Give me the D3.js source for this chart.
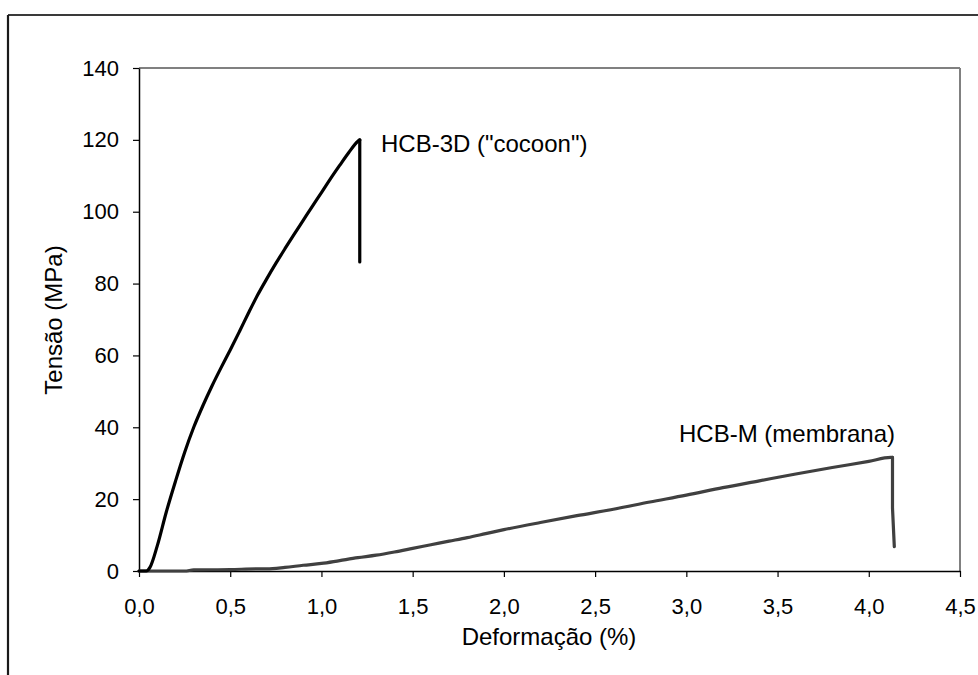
<!DOCTYPE html>
<html><head><meta charset="utf-8">
<script src="https://cdn.jsdelivr.net/npm/d3@7"></script>
<style>body{margin:0;background:#fff}svg{display:block;font-family:"Liberation Sans",Arial,sans-serif}</style>
</head><body>
<svg id="c" width="978" height="675"></svg>
<script>
const xTicks = [0,0.5,1.0,1.5,2.0,2.5,3.0,3.5,4.0,4.5];
const yTicks = [0,20,40,60,80,100,120,140];
const xTitle = "Deformação (%)";
const yTitle = "Tensão (MPa)";
const seriesNames = ['HCB-3D ("cocoon")', "HCB-M (membrana)"];
const cocoonX = [0,0.04,0.06,0.10,0.15,0.20,0.25,0.30,0.35,0.40,0.45,0.50,0.55,0.60,0.65,0.70,0.75,0.80,0.85,0.90,0.95,1.00,1.05,1.10,1.15,1.20,1.21,1.21];
const cocoonY = [0,0,1,7,16.5,25,33,40,46,51.5,56.6,61.5,66.6,71.8,76.8,81.3,85.6,89.7,93.7,97.6,101.5,105.3,109.2,112.9,116.5,119.6,120,86];
const membX = [0,0.25,0.30,0.50,0.65,0.70,0.80,0.90,1.00,1.10,1.20,1.30,1.40,1.50,1.60,1.70,1.80,1.90,2.00,2.20,2.40,2.60,2.80,3.00,3.20,3.40,3.60,3.80,4.00,4.12,4.13,4.13,4.14];
const membY = [0,0,0.3,0.4,0.6,0.6,1.0,1.6,2.1,2.9,3.7,4.4,5.3,6.3,7.3,8.3,9.3,10.4,11.5,13.5,15.4,17.2,19.2,21.1,23.2,25.1,27.0,28.8,30.5,31.6,31.6,17.5,6.8];

const svg = d3.select("#c");
const L=139, R=960, T=68, B=571;
const x = d3.scaleLinear().domain([0,4.5]).range([L,R]);
const y = d3.scaleLinear().domain([0,140]).range([B,T]);

// outer frame (top & left only visible)
svg.append("line").attr("x1",8).attr("x2",978).attr("y1",15).attr("y2",15).attr("stroke","#3a3a3a").attr("stroke-width",2.2);
svg.append("line").attr("x1",8).attr("x2",8).attr("y1",15).attr("y2",675).attr("stroke","#1a1a1a").attr("stroke-width",2.2);

// plot area border (top/right grey)
svg.append("line").attr("x1",L).attr("x2",R).attr("y1",T).attr("y2",T).attr("stroke","#808080").attr("stroke-width",2);
svg.append("line").attr("x1",R).attr("x2",R).attr("y1",T).attr("y2",B).attr("stroke","#808080").attr("stroke-width",2);

const fmt = d => d.toFixed(1).replace(".",",");
const gx = svg.append("g").attr("transform",`translate(0,${B})`)
  .call(d3.axisBottom(x).tickValues(xTicks).tickFormat(fmt).tickSizeInner(6).tickSizeOuter(0).tickPadding(21));
const gy = svg.append("g").attr("transform",`translate(${L},0)`)
  .call(d3.axisLeft(y).tickValues(yTicks).tickSizeInner(6).tickSizeOuter(0).tickPadding(14));
[gx,gy].forEach(g=>{
  g.selectAll("text").attr("font-size",22).attr("fill","#000").attr("font-family","Liberation Sans, Arial, sans-serif");
  g.select(".domain").attr("stroke","#000").attr("stroke-width",1.5);
  g.selectAll(".tick line").attr("stroke","#000").attr("stroke-width",1.2);
});

function drawSeries(xs, ys, color){
  const pts = xs.map((v,i)=>[v,ys[i]]);
  // split where x stops increasing (the vertical rupture drop)
  let k = 1;
  while (k < pts.length && pts[k][0] > pts[k-1][0]) k++;
  const rise = pts.slice(0,k), drop = pts.slice(k-1);
  const smooth = d3.line().x(d=>x(d[0])).y(d=>y(d[1])).curve(d3.curveMonotoneX);
  const lin = d3.line().x(d=>x(d[0])).y(d=>y(d[1]));
  const g = svg.append("g").attr("fill","none").attr("stroke",color).attr("stroke-width",3.2)
    .attr("stroke-linejoin","round").attr("stroke-linecap","round");
  g.append("path").attr("d",smooth(rise));
  if (drop.length>1) g.append("path").attr("d",lin(drop));
}
drawSeries(membX, membY, "#404040");
drawSeries(cocoonX, cocoonY, "#000");

svg.append("text").attr("x",381).attr("y",152).attr("font-size",24).text(seriesNames[0]);
svg.append("text").attr("x",679).attr("y",442).attr("font-size",24).text(seriesNames[1]);

svg.append("text").attr("x",549).attr("y",645).attr("text-anchor","middle").attr("font-size",24).text(xTitle);
svg.append("text").attr("transform","translate(62,320) rotate(-90)").attr("text-anchor","middle").attr("font-size",24).text(yTitle);
</script>
</body></html>
